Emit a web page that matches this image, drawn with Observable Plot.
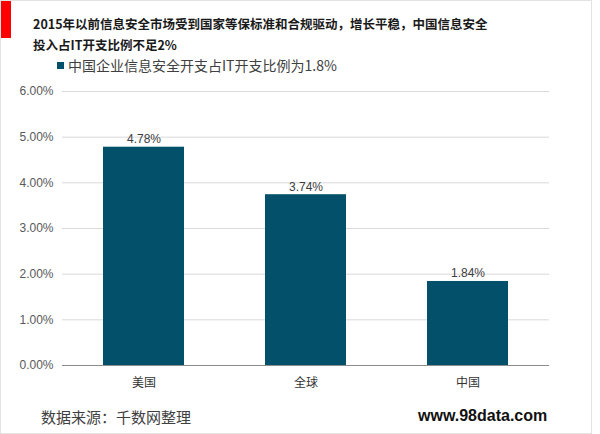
<!DOCTYPE html>
<html>
<head>
<meta charset="utf-8">
<script src="https://cdn.jsdelivr.net/npm/d3@7"></script>
<script src="https://cdn.jsdelivr.net/npm/@observablehq/plot@0.6"></script>
<style>
  html, body { margin: 0; padding: 0; background: #fff; }
  #frame { position: relative; width: 590px; height: 432px; border: 1px solid #e3e3e3; overflow: hidden; background: #fff;
    font-family: "Liberation Sans", Arial, "Noto Sans CJK SC", sans-serif; }
  #header { position: relative; height: 74px; }
  #redbar { position: absolute; left: -1px; top: -1px; width: 11px; height: 38px; background: #ff0000; }
  .title { position: absolute; left: 32px; font-family: "Noto Sans CJK SC", sans-serif; font-weight: bold; font-size: 12.5px; line-height: 14px; color: #1a1a1a; white-space: nowrap; }
  #legend { position: absolute; left: 56px; top: 56px; height: 16px; line-height: 16px; font-family: "Noto Sans CJK SC", sans-serif; font-size: 14px; color: #404040; white-space: nowrap; display: flex; align-items: center; }
  #legend .sw { display: inline-block; width: 7px; height: 7px; background: #03506b; margin-right: 4px; }
  #chart svg { display: block; }
  #footer { position: relative; height: 34px; }
  #source { position: absolute; left: 40px; top: 5px; font-family: "Noto Sans CJK SC", sans-serif; font-size: 15px; color: #404040; }
  #site { position: absolute; left: 417px; top: 6px; font-family: "Liberation Sans", Arial, sans-serif; font-weight: bold; font-size: 16px; color: #111; }
</style>
</head>
<body>
<div id="frame">
  <div id="header">
    <div id="redbar"></div>
    <div class="title" style="top: 16px;">2015年以前信息安全市场受到国家等保标准和合规驱动，增长平稳，中国信息安全</div>
    <div class="title" style="top: 37px;">投入占IT开支比例不足2%</div>
    <div id="legend"><span class="sw"></span><span>中国企业信息安全开支占IT开支比例为1.8%</span></div>
  </div>
  <div id="chart"></div>
  <div id="footer">
    <div id="source">数据来源：千数网整理</div>
    <div id="site">www.98data.com</div>
  </div>
</div>
<script>
const categories = ["美国", "全球", "中国"];
const values = [4.78, 3.74, 1.84];
const yTicks = [0, 1, 2, 3, 4, 5, 6];
const barColor = "#03506b";

const data = categories.map((c, i) => ({ category: c, value: values[i] }));
const fmt = d => d.toFixed(2) + "%";

const chart = Plot.plot({
  width: 590,
  height: 326,
  marginTop: 16,
  marginBottom: 36,
  marginLeft: 61,
  marginRight: 42,
  style: { fontFamily: "'Liberation Sans', Arial, 'Noto Sans CJK SC', sans-serif", fontSize: "12px", color: "#595959", background: "#fff" },
  x: { domain: categories, paddingInner: 0.5, paddingOuter: 0.25, label: null },
  y: { domain: [0, 6], label: null },
  marks: [
    Plot.gridY(yTicks, { stroke: "#d9d9d9", strokeOpacity: 1 }),
    Plot.barY(data, { x: "category", y: "value", fill: barColor }),
    Plot.ruleY([0], { stroke: "#8c8c8c", strokeWidth: 1 }),
    Plot.text(data, { x: "category", y: "value", text: d => fmt(d.value), dy: -8, fill: "#404040", fontSize: 12 }),
    Plot.axisY(yTicks, { tickSize: 0, tickPadding: 9, tickFormat: fmt, fill: "#595959", fontSize: 12, label: null }),
    Plot.axisX({ tickSize: 0, tickPadding: 13, fill: "#333", fontSize: 12, label: null, fontFamily: "'Noto Sans CJK SC', sans-serif" })
  ]
});
document.getElementById("chart").appendChild(chart);
</script>
</body>
</html>
